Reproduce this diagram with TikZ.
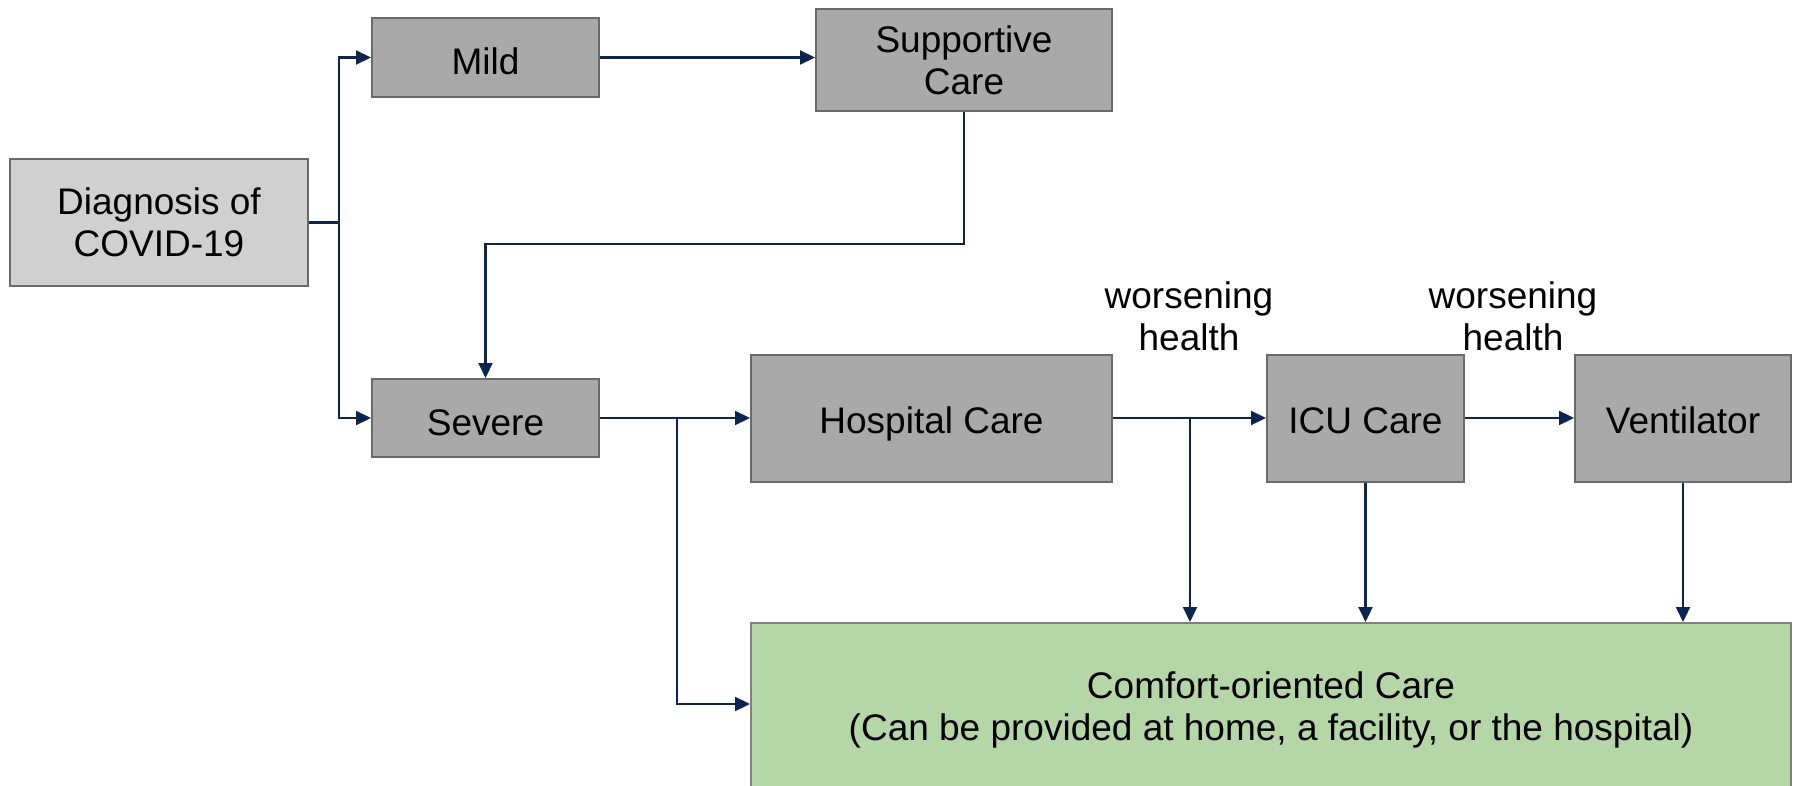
\documentclass[tikz,border=0pt]{standalone}
\usepackage{fontspec}
\setmainfont{Liberation Sans}
\usetikzlibrary{arrows.meta}
\definecolor{boxgray}{HTML}{A9A9A9}
\definecolor{lightgray}{HTML}{D0D0D0}
\definecolor{edgegray}{HTML}{6A6A6A}
\definecolor{comfgreen}{HTML}{B5D6A7}
\definecolor{navy}{HTML}{0B2550}
\begin{document}
\begin{tikzpicture}[x=1pt,y=-1pt,
  box/.style={draw=edgegray, line width=2pt, fill=boxgray, align=center, inner sep=0pt,
    font=\fontsize{37}{42}\selectfont},
  oneline/.style={text height=#1, text depth=0pt},
  conn/.style={draw=navy, line width=2.2pt},
  arr/.style={conn, -{Triangle[length=15pt,width=14pt]}},
  lbl/.style={align=center, font=\fontsize{37}{42}\selectfont}
]
\useasboundingbox (0,0) rectangle (1796,786);
\fill[white] (0,0) rectangle (1796,786);

\node[box, fill=lightgray, minimum width=298pt, minimum height=127pt] (diag) at (159,222.5) {Diagnosis of\\COVID-19};
\node[box, oneline=35pt, minimum width=227pt, minimum height=79pt] (mild) at (485.5,57.5) {Mild};
\node[box, minimum width=296pt, minimum height=102pt] (supp) at (964,60) {Supportive\\Care};
\node[box, oneline=35pt, minimum width=227pt, minimum height=78pt] (severe) at (485.5,418) {Severe};
\node[box, oneline=30pt, minimum width=361pt, minimum height=127pt] (hosp) at (931.5,418) {Hospital Care};
\node[box, oneline=30pt, minimum width=197pt, minimum height=127pt] (icu) at (1365.5,418) {ICU Care};
\node[box, oneline=30pt, minimum width=216pt, minimum height=127pt] (vent) at (1683,418) {Ventilator};
\node[box, draw=gray, fill=comfgreen, minimum width=1040pt, minimum height=174pt] (comf) at (1271,710) {Comfort-oriented Care\\(Can be provided at home, a facility, or the hospital)};

\node[lbl] (w1) at (1189,316) {worsening\\health};
\node[lbl] (w2) at (1513,316) {worsening\\health};

\coordinate (b1) at (339,222.5);
\draw[conn] (diag.east) -- (b1);
\draw[arr] (b1) |- (mild.west);
\draw[arr] (b1) |- (severe.west);
\draw[arr] (mild.east) -- (supp.west |- mild.east);

\coordinate (c1) at (964,244);
\draw[arr] (supp.south) -- (c1) -| (severe.north);

\draw[arr] (severe.east) -- (hosp.west);
\coordinate (b2) at (677,418);
\coordinate (b2low) at (677,704);
\draw[arr] (b2) -- (b2low) -- (comf.west |- b2low);

\draw[arr] (hosp.east) -- (icu.west);
\coordinate (b3) at (1190,418);
\draw[arr] (b3) -- (b3 |- comf.north);

\draw[arr] (icu.south) -- (icu.south |- comf.north);
\draw[arr] (icu.east) -- (vent.west);
\draw[arr] (vent.south) -- (vent.south |- comf.north);
\end{tikzpicture}
\end{document}
